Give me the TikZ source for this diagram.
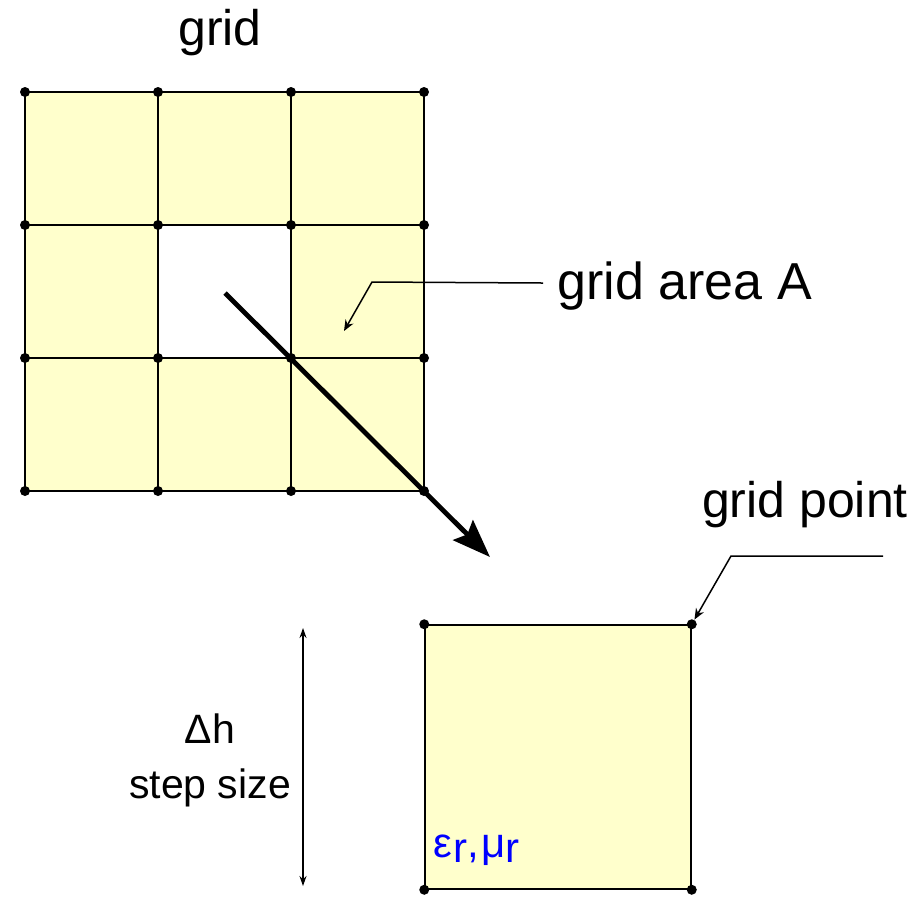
\documentclass[tikz,border=0pt]{standalone}
\usepackage{fontspec}
\setmainfont{Liberation Sans}
\usetikzlibrary{positioning,arrows.meta}
\definecolor{cellfill}{HTML}{FFFFCC}
\definecolor{ink}{HTML}{000000}
\definecolor{matblue}{HTML}{0000FF}

\begin{document}
\begin{tikzpicture}[
  x=0.5pt, y=-0.5pt,
  cell/.style={fill=cellfill},
  gline/.style={draw=ink, line width=0.75pt},
  cellbox/.style={draw=ink, line width=0.75pt, fill=cellfill, minimum width=133pt, minimum height=132pt, inner sep=0pt},
  gdot/.style={circle, fill=ink, inner sep=0pt, minimum size=5pt},
  lbl/.style={font=\fontsize{25}{30}\selectfont, text=ink, inner sep=0pt, align=center},
  lead/.style={-{Stealth[length=5.5pt,width=4.5pt]}, line width=0.75pt, draw=ink},
  zoomarrow/.style={-{Stealth[length=19pt,width=14pt,inset=3pt]}, line width=2.4pt, draw=ink},
  dim/.style={{Stealth[length=5pt,width=3.5pt]}-{Stealth[length=5pt,width=3.5pt]}, line width=0.6pt, draw=ink}
]
  \useasboundingbox (0,0) rectangle (920,896);

  % 3x3 grid, middle cell left open
  \foreach \i in {0,1,2}
    \foreach \j in {0,1,2}
      {\ifnum\i\j=11 \else
        \fill[cell] (25+133*\i,92+133*\j) rectangle ++(133,133);
      \fi}
  \foreach \k in {0,...,3}
    {\draw[gline] (25+133*\k,92) -- (25+133*\k,491);
     \draw[gline] (25,92+133*\k) -- (424,92+133*\k);}
  \node[lbl, anchor=base] (gridlbl) at (220,45) {grid};

  % zoom arrow out of the open cell
  \coordinate (zoomstart) at (225,293);
  \coordinate (zoomend)   at (490,557);
  \draw[zoomarrow] (zoomstart) -- (zoomend);

  \foreach \i in {0,...,3}
    \foreach \j in {0,...,3}
      \node[gdot] (g\i\j) at (25+133*\i,92+133*\j) {};

  % grid area label
  \node[lbl, font=\fontsize{26}{30}\selectfont, anchor=base west] (arealbl) at (557,299) {grid area A};
  \coordinate (areabend) at (372,282);
  \coordinate (areatip)  at (344,331);
  \draw[lead] ([xshift=-7pt,yshift=8pt]arealbl.base west) -- (areabend) -- (areatip);

  % single cell
  \node[cellbox] (cellA) at (558,757) {};
  \node[gdot] (cnw) at (cellA.north west) {};
  \node[gdot] (cne) at (cellA.north east) {};
  \node[gdot] (csw) at (cellA.south west) {};
  \node[gdot] (cse) at (cellA.south east) {};
  \node[anchor=base west, inner sep=0pt, text=matblue, font=\fontsize{21}{24}\selectfont]
    (matlbl) at ([shift={(9,-32)}]cellA.south west) {ε\kern0.5pt\raisebox{-2.5pt}{r},\kern1pt μ\raisebox{-2.5pt}{r}};

  % grid point label
  \node[lbl, anchor=base] (pointlbl) at (805,517) {grid point};
  \coordinate (pointend)  at (883,556);
  \coordinate (pointbend) at (731,556);
  \draw[lead] (pointend) -- (pointbend) -- (cne);

  % step size
  \coordinate (dimtop) at (303,628);
  \coordinate (dimbot) at (303,886);
  \draw[dim] (dimtop) -- (dimbot);
  \node[lbl, font=\fontsize{20.5}{27.5}\selectfont, anchor=north] (steplbl) at (210,713) {Δh\\step size};
\end{tikzpicture}
\end{document}
